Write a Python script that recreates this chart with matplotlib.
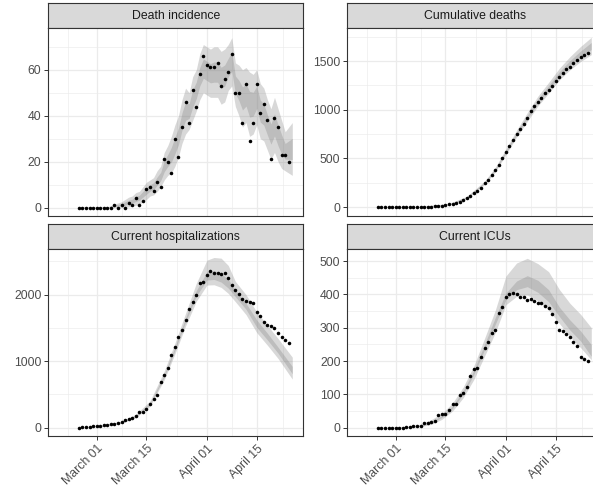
import numpy as np
import pandas as pd
import matplotlib
matplotlib.use("Agg")
import matplotlib.pyplot as plt
import matplotlib.dates as mdates

plt.rcParams['font.family'] = ['Liberation Sans', 'DejaVu Sans']

# observation days: 2020-02-25 .. 2020-04-24, model bands run one day longer
start = pd.Timestamp('2020-02-25')
obs_dates = pd.date_range(start, periods=60, freq='D')

death_obs = [0, 0, 0, 0, 0, 0, 0, 0, 0, 0,
             1, 0, 1, 0, 2, 1, 4, 1, 3, 8,
             9, 7, 11, 9, 21, 20, 15, 30, 22, 35,
             46, 37, 51, 44, 58, 66, 62, 61, 61, 63,
             53, 56, 59, 67, 50, 50, 37, 54, 29, 37,
             54, 41, 45, 38, 21, 39, 35, 23, 23, 20]

cum_obs = [0, 0, 0, 0, 0, 0, 0, 0, 0, 0,
           1, 1, 2, 2, 4, 5, 9, 10, 13, 21,
           30, 37, 48, 57, 78, 98, 113, 143, 165, 200,
           246, 283, 334, 378, 436, 502, 564, 625, 686, 749,
           802, 858, 917, 984, 1034, 1084, 1121, 1175, 1204, 1241,
           1295, 1336, 1381, 1419, 1440, 1479, 1514, 1537, 1560, 1580]

hosp_obs = [0, 3, 8, 12, 17, 22, 27, 33, 40, 48,
            57, 70, 88, 110, 135, 150, 170, 230, 241, 276,
            351, 426, 491, 687, 797, 902, 1088, 1208, 1369, 1464,
            1614, 1790, 1885, 2000, 2181, 2196, 2291, 2356, 2331, 2321,
            2311, 2321, 2251, 2146, 2075, 2010, 1930, 1910, 1890, 1870,
            1740, 1679, 1589, 1549, 1529, 1499, 1419, 1359, 1313, 1268]

icu_obs = [0, 0, 0, 0, 0, 0, 0, 0, 1, 2,
           4, 6, 6, 13, 15, 17, 20, 37, 40, 42,
           54, 70, 71, 99, 104, 121, 154, 176, 180, 212,
           238, 256, 284, 294, 343, 362, 391, 401, 403, 402,
           392, 391, 384, 387, 379, 373, 374, 364, 359, 342,
           318, 294, 291, 280, 271, 258, 244, 211, 207, 200]

# model bands (days after 2020-02-25): 95% and 50% intervals
death_band_day = list(range(61))
death_lo95 = [0, 0, 0, 0, 0, 0, 0, 0, 0, 0,
              0, 0, 0, 0, 0.3, 0.5, 1, 1.5, 2.5, 3.5,
              5, 5.5, 7, 9, 12, 14, 15, 18, 22, 28,
              32, 34, 38, 42, 47, 50, 49, 48, 48, 48,
              45, 46, 51, 53, 44, 40, 35, 37, 31, 32,
              36, 30, 29, 25, 21, 24, 20, 17, 16, 15, 14]
death_hi95 = [0.3, 0.3, 0.3, 0.3, 0.3, 0.3, 0.3, 0.3, 0.3, 0.8,
              1.5, 2, 2.5, 3.5, 4.5, 5, 6.5, 7, 9, 11,
              12, 13, 16, 18, 24, 27, 31, 36, 40, 47,
              52, 50, 57, 60, 67, 71, 70, 69, 70, 70,
              68, 69, 71, 74, 63, 62, 60, 61, 59, 58,
              60, 54, 52, 47, 43, 48, 43, 38, 33, 35, 37]
death_lo50 = [0.1, 0.1, 0.1, 0.1, 0.1, 0.1, 0.1, 0.1, 0.1, 0.25,
              0.45, 0.6, 0.75, 1.05, 1.6, 1.9, 2.6, 3.2, 4.5, 5.8,
              7.1, 7.8, 9.7, 11.7, 15.6, 17.9, 19.8, 23.4, 27.4, 33.7,
              38, 38.8, 43.7, 47.4, 53, 56.3, 55.3, 54.3, 54.6, 54.6,
              51.9, 52.9, 57, 59.3, 49.7, 46.6, 42.5, 44.2, 39.4, 39.8,
              43.2, 37.2, 35.9, 31.6, 27.6, 31.2, 26.9, 23.3, 21.1, 21, 20.9]
death_hi50 = [0.2, 0.2, 0.2, 0.2, 0.2, 0.2, 0.2, 0.2, 0.2, 0.55,
              1.05, 1.4, 1.75, 2.45, 3.2, 3.6, 4.9, 5.3, 7, 8.8,
              9.9, 10.8, 13.3, 15.3, 20.4, 23.1, 26.2, 30.6, 34.6, 41.3,
              46, 45.2, 51.3, 54.6, 61, 64.7, 63.7, 62.7, 63.4, 63.4,
              61.1, 62.1, 65, 67.7, 57.3, 55.4, 52.5, 53.8, 50.6, 50.2,
              52.8, 46.8, 45.1, 40.4, 36.4, 40.8, 36.1, 31.7, 27.9, 29, 30.1]

cum_band_day = [0, 10, 20, 25, 30, 33, 36, 39, 42, 45, 48, 51, 54, 57, 60]
cum_lo95 = [0, 0, 24, 88, 232, 362, 540, 720, 880, 1040, 1170, 1305, 1410, 1495, 1565]
cum_hi95 = [0.5, 3, 38, 112, 268, 408, 600, 790, 970, 1140, 1280, 1425, 1545, 1650, 1743]
cum_lo50 = [0.1, 1, 28.6, 95, 243, 376, 558, 741, 907, 1070, 1203, 1341, 1450, 1541, 1618]
cum_hi50 = [0.3, 2, 33.4, 105, 257, 394, 582, 769, 943, 1110, 1247, 1389, 1504, 1603, 1690]

hosp_band_day = [0, 6, 12, 16, 20, 24, 27, 30, 33, 36, 38, 40, 42, 44, 47, 50, 53, 56, 60]
hosp_lo95 = [0, 18, 65, 150, 320, 720, 1110, 1530, 1900, 2145, 2150, 2110, 2020, 1895, 1700, 1430, 1240, 1040, 730]
hosp_lo50 = [0, 22, 75, 165, 345, 760, 1160, 1590, 1980, 2220, 2230, 2190, 2100, 1970, 1780, 1510, 1320, 1120, 810]
hosp_hi50 = [1, 26, 85, 180, 370, 800, 1210, 1650, 2060, 2345, 2360, 2320, 2230, 2070, 1870, 1620, 1420, 1210, 920]
hosp_hi95 = [2, 30, 95, 200, 400, 850, 1270, 1720, 2170, 2520, 2560, 2550, 2440, 2200, 2000, 1740, 1540, 1340, 1060]

icu_band_day = [0, 8, 12, 15, 18, 21, 24, 27, 30, 33, 36, 39, 42, 45, 48, 51, 54, 57, 60]
icu_lo95 = [0, 0, 3, 10, 25, 50, 90, 145, 215, 285, 369, 394, 398, 381, 353, 313, 273, 240, 204]
icu_lo50 = [0, 0.5, 5, 14, 31, 58, 101, 160, 234, 310, 384, 414, 423, 406, 378, 334, 293, 260, 214]
icu_hi50 = [0, 1.5, 7, 18, 36, 65, 111, 172, 250, 330, 404, 440, 456, 442, 414, 362, 323, 290, 249]
icu_hi95 = [0, 3, 10, 24, 43, 74, 122, 186, 268, 352, 455, 494, 508, 492, 468, 415, 373, 340, 300]

panel_titles = ['Death incidence', 'Cumulative deaths',
                'Current hospitalizations', 'Current ICUs']
x_tick_dates = ['2020-03-01', '2020-03-15', '2020-04-01', '2020-04-15']
x_tick_labels = ['March 01', 'March 15', 'April 01', 'April 15']

W, H = 593, 492
fig = plt.figure(figsize=(W / 100, H / 100), dpi=100)


def px_axes(x0, y0, x1, y1):
    return fig.add_axes([x0 / W, 1 - y1 / H, (x1 - x0) / W, (y1 - y0) / H])


GRID = '#EBEBEB'
EDGE = '#333333'
TXT = '#4D4D4D'
FS = 8.8

x0_date = mdates.date2num(pd.Timestamp('2020-03-01'))
xlim = (x0_date - 13.6, x0_date + 58.1)
x_minor = [mdates.date2num(pd.Timestamp(d)) for d in
           ['2020-02-22', '2020-03-08', '2020-03-23 12:00', '2020-04-08', '2020-04-22 12:00']]

panels = [
    dict(obs=death_obs, day=death_band_day, lo95=death_lo95, hi95=death_hi95,
         lo50=death_lo50, hi50=death_hi50, ylim=(-3.7, 78.2),
         major=[0, 20, 40, 60], minor=[10, 30, 50, 70]),
    dict(obs=cum_obs, day=cum_band_day, lo95=cum_lo95, hi95=cum_hi95,
         lo50=cum_lo50, hi50=cum_hi50, ylim=(-90, 1839),
         major=[0, 500, 1000, 1500], minor=[250, 750, 1250, 1750]),
    dict(obs=hosp_obs, day=hosp_band_day, lo95=hosp_lo95, hi95=hosp_hi95,
         lo50=hosp_lo50, hi50=hosp_hi50, ylim=(-127, 2688),
         major=[0, 1000, 2000], minor=[500, 1500, 2500]),
    dict(obs=icu_obs, day=icu_band_day, lo95=icu_lo95, hi95=icu_hi95,
         lo50=icu_lo50, hi50=icu_hi50, ylim=(-25, 536),
         major=[0, 100, 200, 300, 400, 500], minor=[50, 150, 250, 350, 450]),
]

col_x = [(48.3, 303.3), (347.3, 602.3)]
row_y = [(3.3, 28, 216), (224, 249, 436)]

for k, (title, p) in enumerate(zip(panel_titles, panels)):
    r, c = divmod(k, 2)
    xa, xb = col_x[c]
    ys, yt, yb = row_y[r]

    # strip
    sax = px_axes(xa, ys, xb, yt)
    sax.set_facecolor('#D9D9D9')
    sax.set_xticks([])
    sax.set_yticks([])
    for s in sax.spines.values():
        s.set_color(EDGE)
        s.set_linewidth(0.8)
    sax.text(0.5, 0.47, title, ha='center', va='center', fontsize=FS,
             color='#1A1A1A', transform=sax.transAxes)

    ax = px_axes(xa, yt, xb, yb)
    ax.set_xlim(*xlim)
    ax.set_ylim(*p['ylim'])

    for v in p['minor']:
        ax.axhline(v, color=GRID, lw=0.45, zorder=0)
    for v in x_minor:
        ax.axvline(v, color=GRID, lw=0.45, zorder=0)
    for v in p['major']:
        ax.axhline(v, color=GRID, lw=0.9, zorder=0)
    for d in x_tick_dates:
        ax.axvline(mdates.date2num(pd.Timestamp(d)), color=GRID, lw=0.9, zorder=0)

    band_dates = start + pd.to_timedelta(p['day'], unit='D')
    ax.fill_between(band_dates, p['lo95'], p['hi95'], color='#7F7F7F',
                    alpha=0.3, lw=0, zorder=1)
    ax.fill_between(band_dates, p['lo50'], p['hi50'], color='#7F7F7F',
                    alpha=0.3, lw=0, zorder=2)
    ax.scatter(obs_dates, p['obs'], s=6.5, color='black', lw=0, zorder=3)

    ax.set_yticks(p['major'])
    ax.set_yticklabels([str(v) for v in p['major']])
    ax.tick_params(axis='y', length=2.9, width=0.7, color=EDGE,
                   labelsize=FS, labelcolor=TXT, pad=2)
    ax.set_xticks([mdates.date2num(pd.Timestamp(d)) for d in x_tick_dates])
    if r == 1:
        ax.set_xticklabels(x_tick_labels)
        ax.tick_params(axis='x', length=2.9, width=0.7, color=EDGE,
                       labelsize=FS, labelcolor=TXT, pad=2)
        for lab in ax.get_xticklabels():
            lab.set_rotation(45)
            lab.set_ha('right')
            lab.set_va('top')
            lab.set_rotation_mode('anchor')
    else:
        ax.tick_params(axis='x', length=0, labelbottom=False)
    for s in ax.spines.values():
        s.set_color(EDGE)
        s.set_linewidth(0.8)

fig.savefig('out.png', dpi=100)
